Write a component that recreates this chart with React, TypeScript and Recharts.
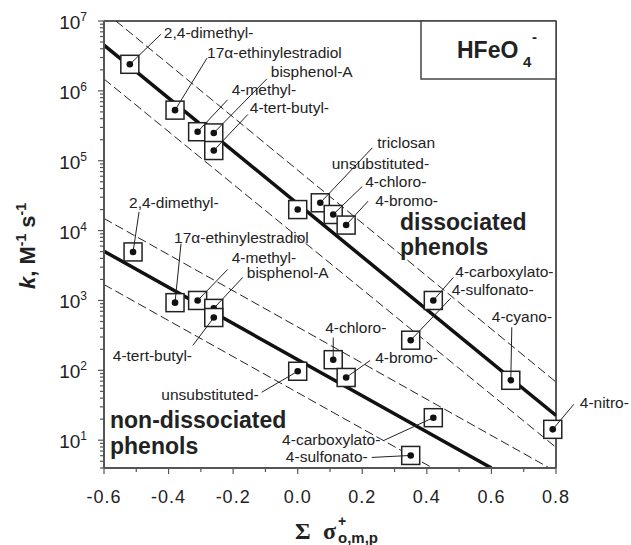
import React from 'react';
import { ComposedChart, XAxis, YAxis, Scatter, ReferenceLine } from 'recharts';

// dissociated phenols (sigma+, k in M^-1 s^-1)
const dissNames = [
  '2,4-dimethyl-', '17\u03b1-ethinylestradiol', '4-methyl-', 'bisphenol-A', '4-tert-butyl-',
  'unsubstituted-', 'triclosan', '4-chloro-', '4-bromo-', '4-carboxylato-', '4-sulfonato-',
  '4-cyano-', '4-nitro-',
];
const dissSigma = [-0.52, -0.38, -0.31, -0.26, -0.26, 0.0, 0.07, 0.11, 0.15, 0.42, 0.35, 0.66, 0.79];
const dissK = [2.4e6, 5.3e5, 2.6e5, 2.5e5, 1.4e5, 2.0e4, 2.5e4, 1.7e4, 1.2e4, 1.0e3, 270, 72, 14.3];

// non-dissociated phenols
const nonNames = [
  '2,4-dimethyl-', '17\u03b1-ethinylestradiol', '4-methyl-', 'bisphenol-A', '4-tert-butyl-',
  'unsubstituted-', '4-chloro-', '4-bromo-', '4-carboxylato-', '4-sulfonato-',
];
const nonSigma = [-0.51, -0.38, -0.31, -0.26, -0.26, 0.0, 0.11, 0.15, 0.42, 0.35];
const nonK = [4950, 930, 1000, 770, 570, 97, 142, 79, 21, 6.05];

// fitted lines and their bands, [sigma, k] end points
const dissFit = [[-0.6, 4.5e6], [0.8, 22.6]];
const dissUpper = [[-0.563, 1e7], [0.8, 68]];
const dissLower = [[-0.6, 1.48e6], [0.8, 7.9]];
const nonFit = [[-0.6, 5070], [0.6, 4]];
const nonUpper = [[-0.6, 14900], [0.78, 4]];
const nonLower = [[-0.6, 1690], [0.418, 4]];

const xTicks = [-0.6, -0.5, -0.4, -0.3, -0.2, -0.1, 0, 0.1, 0.2, 0.3, 0.4, 0.5, 0.6, 0.7, 0.8];

// log ticks incl. minor ones
const yTicks: number[] = [];
for (let e = 0; e < 7; e++) {
  for (let m = 1; m < 10; m++) {
    const v = m * Math.pow(10, e);
    if (v >= 4 && v <= 1e7) yTicks.push(v);
  }
}
yTicks.push(1e7);

// label placement, pixel offsets from the marker: [textDx, textDy, leadDx, leadDy, anchorEnd]
const dissLabelPos: (number | null)[][] = [
  [34, -31, 31, -30, 0],
  [32, -57, 32, -52, 0],
  [34, -42, 30, -32, 0],
  [57, -61, 53, -54, 0],
  [36, -43, 34, -36, 0],
  [34, -46, null, null, 0],
  [57, -60, 52, -55, 0],
  [32, -32, 29, -28, 0],
  [29, -24, 22, -24, 0],
  [22, -28, 20, -23, 0],
  [41, -50, 40, -42, 0],
  [-19, -63, 1, -53, 0],
  [27, -26, 21, -25, 0],
];
const nonLabelPos: (number | null)[][] = [
  [-4, -49, 6, -40, 0],
  [-1, -65, 6, -59, 0],
  [34, -42, 30, -31, 0],
  [33, -35, 29, -31, 0],
  [-101, 38, -21, 28, 0],
  [-39, 24, -36, 21, 1],
  [-8, -32, 0, -22, 0],
  [29, -19, 24, -17, 0],
  [-53, 22, -50, 23, 1],
  [-43, 2, -39, 2, 1],
];

const dissData = dissNames.map((name, i) => ({ name, i, x: dissSigma[i], k: dissK[i] }));
const nonData = nonNames.map((name, i) => ({ name, i, x: nonSigma[i], k: nonK[i] }));

const FONT = '"Liberation Sans", Arial, sans-serif';
const SERIF = '"Liberation Serif", "Times New Roman", serif';
const INK = '#222';

const makeMarker = (layout: (number | null)[][]) => (props: any) => {
  const { cx, cy, payload } = props;
  const [tx, ty, lx, ly, end] = layout[payload.i];
  return (
    <g>
      <rect x={cx - 9} y={cy - 9} width={18} height={18} fill="#fff" stroke={INK} strokeWidth={1.5} />
      {lx !== null && (
        <line x1={cx} y1={cy} x2={cx + (lx as number)} y2={cy + (ly as number)} stroke={INK} strokeWidth={1} />
      )}
      <circle cx={cx} cy={cy} r={3.3} fill="#111" />
      <text
        x={cx + (tx as number)}
        y={cy + (ty as number) + 5}
        textAnchor={end ? 'end' : 'start'}
        fontFamily={FONT}
        fontSize={15.5}
        fill={INK}
      >
        {payload.name}
      </text>
    </g>
  );
};

const YTick = (props: any) => {
  const { x, y, payload } = props;
  const v = payload.value;
  const lg = Math.log10(v);
  const major = Math.abs(lg - Math.round(lg)) < 1e-6;
  const ax = x + 6;
  return (
    <g>
      <line x1={ax - (major ? 6 : 4)} x2={ax} y1={y} y2={y} stroke="#555" strokeWidth={1.2} />
      {major && (
        <text x={ax - 17} y={y + 8} textAnchor="end" fontFamily={FONT} fontSize={19} fill={INK}>
          10
          <tspan dy={-8} fontSize={12}>{Math.round(lg)}</tspan>
        </text>
      )}
    </g>
  );
};

const XTick = (props: any) => {
  const { x, y, payload } = props;
  const v = payload.value;
  const major = Math.abs(v * 5 - Math.round(v * 5)) < 1e-6;
  const ay = y - 6;
  return (
    <g>
      <line x1={x} x2={x} y1={ay} y2={ay + (major ? 6 : 4)} stroke="#555" strokeWidth={1.2} />
      {major && (
        <text x={x} y={ay + 35} textAnchor="middle" fontFamily={FONT} fontSize={18} letterSpacing={1} fill={INK}>
          {v.toFixed(1)}
        </text>
      )}
    </g>
  );
};

const seg = (pts: number[][]) => [
  { x: pts[0][0], y: pts[0][1] },
  { x: pts[1][0], y: pts[1][1] },
];

export default function App() {
  return (
    <div style={{ position: 'absolute', left: 0, top: 0, width: 631, height: 545, background: '#fff' }}>
      <ComposedChart width={631} height={545} margin={{ top: 21, right: 75, bottom: 37, left: 44 }}>
        <XAxis
          type="number"
          dataKey="x"
          domain={[-0.6, 0.8]}
          ticks={xTicks}
          interval={0}
          tick={<XTick />}
          tickLine={false}
          tickSize={6}
          tickMargin={0}
          height={40}
          axisLine={{ stroke: '#555', strokeWidth: 2 }}
        />
        <YAxis
          type="number"
          dataKey="k"
          scale="log"
          domain={[4, 1e7]}
          ticks={yTicks}
          interval={0}
          tick={<YTick />}
          tickLine={false}
          tickSize={6}
          tickMargin={0}
          width={60}
          axisLine={{ stroke: '#555', strokeWidth: 2 }}
        />
        <ReferenceLine y={1e7} stroke={INK} strokeWidth={1.5} ifOverflow="visible" />
        <ReferenceLine x={0.8} stroke={INK} strokeWidth={1.5} ifOverflow="visible" />
        <ReferenceLine segment={seg(dissUpper)} stroke={INK} strokeWidth={1} strokeDasharray="9 4" ifOverflow="hidden" />
        <ReferenceLine segment={seg(dissLower)} stroke={INK} strokeWidth={1} strokeDasharray="9 4" ifOverflow="hidden" />
        <ReferenceLine segment={seg(nonUpper)} stroke={INK} strokeWidth={1} strokeDasharray="9 4" ifOverflow="hidden" />
        <ReferenceLine segment={seg(nonLower)} stroke={INK} strokeWidth={1} strokeDasharray="9 4" ifOverflow="hidden" />
        <ReferenceLine segment={seg(dissFit)} stroke="#111" strokeWidth={3.5} ifOverflow="hidden" />
        <ReferenceLine segment={seg(nonFit)} stroke="#111" strokeWidth={3.5} ifOverflow="hidden" />
        <Scatter data={dissData} dataKey="k" shape={makeMarker(dissLabelPos)} isAnimationActive={false} />
        <Scatter data={nonData} dataKey="k" shape={makeMarker(nonLabelPos)} isAnimationActive={false} />
      </ComposedChart>
      <svg
        width={631}
        height={545}
        style={{ position: 'absolute', left: 0, top: 0, pointerEvents: 'none' }}
      >
        {/* species box */}
        <rect x={421} y={21} width={135} height={58} fill="#fff" stroke="#444" strokeWidth={1.5} />
        <text x={457} y={58} fontFamily={FONT} fontWeight="bold" fontSize={23} fill={INK}>HFeO</text>
        <text x={523} y={67} fontFamily={FONT} fontWeight="bold" fontSize={15} fill={INK}>4</text>
        <text x={532} y={42} fontFamily={FONT} fontWeight="bold" fontSize={15} fill={INK}>-</text>

        <text fontFamily={FONT} fontWeight="bold" fontSize={23} fill={INK}>
          <tspan x={400} y={230}>dissociated</tspan>
          <tspan x={400} y={255}>phenols</tspan>
        </text>
        <text fontFamily={FONT} fontWeight="bold" fontSize={23} fill={INK}>
          <tspan x={110} y={428}>non-dissociated</tspan>
          <tspan x={110} y={454}>phenols</tspan>
        </text>

        {/* axis titles */}
        <text
          transform="translate(35,246) rotate(-90)"
          textAnchor="middle"
          fontFamily={FONT}
          fontWeight="bold"
          fontSize={22}
          fill={INK}
        >
          <tspan fontStyle="italic">k</tspan>, M
          <tspan dy={-9} fontSize={14}>-1</tspan>
          <tspan dy={9}> s</tspan>
          <tspan dy={-9} fontSize={14}>-1</tspan>
        </text>
        <text x={295} y={539} fontFamily={SERIF} fontWeight="bold" fontSize={24} fill={INK}>{'\u03a3'}</text>
        <text x={323} y={539} fontFamily={SERIF} fontWeight="bold" fontSize={24} fill={INK}>{'\u03c3'}</text>
        <text x={338} y={526} fontFamily={FONT} fontWeight="bold" fontSize={14} fill={INK}>+</text>
        <text x={338} y={543} fontFamily={FONT} fontWeight="bold" fontSize={15} fill={INK}>o,m,p</text>
      </svg>
    </div>
  );
}
